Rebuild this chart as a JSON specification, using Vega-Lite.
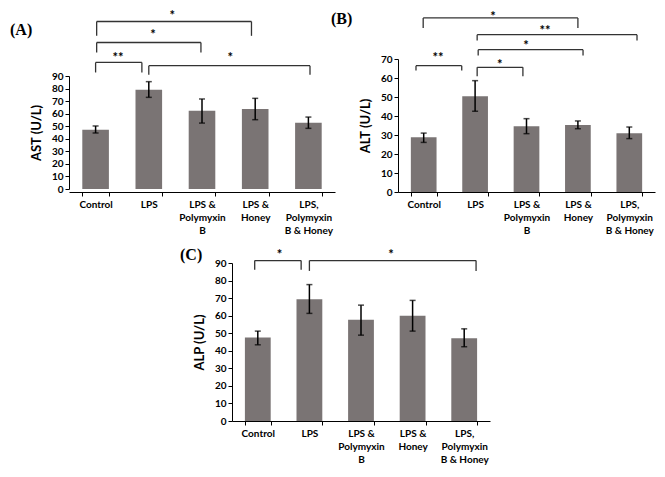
{
  "$schema": "https://vega.github.io/schema/vega-lite/v6.json",
  "padding": {"left": 10, "top": 10, "right": 5, "bottom": 5},
  "background": "white",
  "datasets": {
    "barsA": [
      {"group": "Control", "mean": 47.2, "lo": 44.6, "hi": 50.2},
      {"group": "LPS", "mean": 79.1, "lo": 73.0, "hi": 85.5},
      {"group": "LPS & Polymyxin B", "mean": 62.4, "lo": 52.5, "hi": 71.7},
      {"group": "LPS & Honey", "mean": 63.7, "lo": 55.2, "hi": 72.2},
      {"group": "LPS, Polymyxin B & Honey", "mean": 52.8, "lo": 48.3, "hi": 57.3}
    ],
    "barsB": [
      {"group": "Control", "mean": 28.8, "lo": 26.1, "hi": 31.0},
      {"group": "LPS", "mean": 50.4, "lo": 42.5, "hi": 58.6},
      {"group": "LPS & Polymyxin B", "mean": 34.6, "lo": 30.7, "hi": 38.6},
      {"group": "LPS & Honey", "mean": 35.3, "lo": 33.3, "hi": 37.4},
      {"group": "LPS, Polymyxin B & Honey", "mean": 30.9, "lo": 28.1, "hi": 34.2}
    ],
    "barsC": [
      {"group": "Control", "mean": 47.6, "lo": 43.4, "hi": 51.2},
      {"group": "LPS", "mean": 69.4, "lo": 61.3, "hi": 77.7},
      {"group": "LPS & Polymyxin B", "mean": 57.7, "lo": 48.9, "hi": 66.0},
      {"group": "LPS & Honey", "mean": 60.0, "lo": 51.2, "hi": 68.7},
      {"group": "LPS, Polymyxin B & Honey", "mean": 47.2, "lo": 42.3, "hi": 52.5}
    ],
    "brA": [
      {"x1": 0.52, "x2": 3.43, "h": 133.4, "low": 122, "xm": 1.94, "sy": 140.8, "star": "*"},
      {"x1": 0.52, "x2": 2.48, "h": 116.7, "low": 108.8, "xm": 1.58, "sy": 126, "star": "*"},
      {"x1": 0.5, "x2": 1.37, "h": 100.8, "low": 92.8, "xm": 0.92, "sy": 107.5, "star": "**"},
      {"x1": 1.5, "x2": 4.53, "h": 98.2, "low": 91, "xm": 3.03, "sy": 107.5, "star": "*"}
    ],
    "brB": [
      {"x1": 0.49, "x2": 3.5, "h": 91.6, "low": 86.3, "xm": 1.85, "sy": 94.2, "star": "*"},
      {"x1": 1.54, "x2": 4.65, "h": 82.8, "low": 79.8, "xm": 2.86, "sy": 86.8, "star": "**"},
      {"x1": 1.56, "x2": 3.6, "h": 74.9, "low": 71.8, "xm": 2.49, "sy": 79, "star": "*"},
      {"x1": 1.54, "x2": 2.43, "h": 65.6, "low": 60.9, "xm": 1.98, "sy": 69.2, "star": "*"},
      {"x1": 0.35, "x2": 1.24, "h": 66.5, "low": 63.9, "xm": 0.78, "sy": 72.6, "star": "**"}
    ],
    "brC": [
      {"x1": 0.44, "x2": 1.34, "h": 91.4, "low": 86.2, "xm": 0.92, "sy": 96.7, "star": "*"},
      {"x1": 1.5, "x2": 4.73, "h": 91.4, "low": 85.5, "xm": 3.08, "sy": 96.7, "star": "*"}
    ]
  },
  "vconcat": [
    {
      "hconcat": [
        {
          "width": 266, "height": 133,
          "title": {"text": "(A)", "dx": -59, "dy": 32},
          "resolve": {"scale": {"x": "independent"}},
          "layer": [
            {
              "data": {"name": "barsA"},
              "encoding": {
                "x": {"field": "group", "type": "nominal", "sort": null,
                  "scale": {"paddingInner": 0.5, "paddingOuter": 0.25},
                  "axis": {"title": null, "labelAngle": 0, "tickBand": "extent", "labelLineHeight": 13, "labelPadding": 3,
                    "labelExpr": "datum.label == 'LPS & Polymyxin B' ? ['LPS &','Polymyxin','B'] : datum.label == 'LPS & Honey' ? ['LPS &','Honey'] : datum.label == 'LPS, Polymyxin B & Honey' ? ['LPS,','Polymyxin','B & Honey'] : datum.label"}}
              },
              "layer": [
                {"mark": {"type": "bar", "color": "#7a7474"},
                 "encoding": {"y": {"field": "mean", "type": "quantitative",
                   "scale": {"domain": [0, 90], "range": [130, 17], "nice": false},
                   "axis": {"title": "AST (U/L)", "values": [0,10,20,30,40,50,60,70,80,90], "titlePadding": 8}}}},
                {"mark": {"type": "errorbar", "color": "#000", "thickness": 1.5, "ticks": {"size": 6, "thickness": 1.5}},
                 "encoding": {"y": {"field": "lo", "type": "quantitative", "scale": {"domain": [0, 90], "range": [130, 17], "nice": false},
                   "axis": {"title": "AST (U/L)", "values": [0,10,20,30,40,50,60,70,80,90], "titlePadding": 8}}, "y2": {"field": "hi"}}}
              ]
            },
            {
              "data": {"name": "brA"},
              "layer": [
                {"mark": {"type": "rule", "color": "#333", "strokeWidth": 1.3},
                 "encoding": {"x": {"field": "x1", "type": "quantitative", "scale": {"domain": [0, 5], "nice": false}, "axis": null}, "x2": {"field": "x2"},
                   "y": {"field": "h", "type": "quantitative", "scale": {"domain": [0, 90], "range": [130, 17], "nice": false},
                     "axis": {"title": "AST (U/L)", "values": [0,10,20,30,40,50,60,70,80,90], "titlePadding": 8}}}},
                {"transform": [{"fold": ["x1", "x2"], "as": ["end", "xv"]}],
                 "mark": {"type": "rule", "color": "#333", "strokeWidth": 1.3},
                 "encoding": {"x": {"field": "xv", "type": "quantitative", "scale": {"domain": [0, 5], "nice": false}, "axis": null},
                   "y": {"field": "h", "type": "quantitative", "scale": {"domain": [0, 90], "range": [130, 17], "nice": false},
                     "axis": {"title": "AST (U/L)", "values": [0,10,20,30,40,50,60,70,80,90], "titlePadding": 8}}, "y2": {"field": "low"}}},
                {"mark": {"type": "text", "font": "Lato", "fontWeight": "bold", "fontSize": 13, "baseline": "middle", "dy": 4},
                 "encoding": {"x": {"field": "xm", "type": "quantitative", "scale": {"domain": [0, 5], "nice": false}, "axis": null},
                   "y": {"field": "sy", "type": "quantitative", "scale": {"domain": [0, 90], "range": [130, 17], "nice": false},
                     "axis": {"title": "AST (U/L)", "values": [0,10,20,30,40,50,60,70,80,90], "titlePadding": 8}}, "text": {"field": "star"}}}
              ]
            }
          ]
        },
        {
          "width": 257, "height": 133,
          "title": {"text": "(B)", "dx": -67, "dy": 20},
          "resolve": {"scale": {"x": "independent"}},
          "layer": [
            {
              "data": {"name": "barsB"},
              "encoding": {
                "x": {"field": "group", "type": "nominal", "sort": null,
                  "scale": {"paddingInner": 0.5, "paddingOuter": 0.25},
                  "axis": {"title": null, "labelAngle": 0, "tickBand": "extent", "labelLineHeight": 13, "labelPadding": 3,
                    "labelExpr": "datum.label == 'LPS & Polymyxin B' ? ['LPS &','Polymyxin','B'] : datum.label == 'LPS & Honey' ? ['LPS &','Honey'] : datum.label == 'LPS, Polymyxin B & Honey' ? ['LPS,','Polymyxin','B & Honey'] : datum.label"}}
              },
              "layer": [
                {"mark": {"type": "bar", "color": "#7a7474"},
                 "encoding": {"y": {"field": "mean", "type": "quantitative", "scale": {"domain": [0, 70], "nice": false},
                   "axis": {"title": "ALT (U/L)", "values": [0,10,20,30,40,50,60,70], "titlePadding": 8}}}},
                {"mark": {"type": "errorbar", "color": "#000", "thickness": 1.5, "ticks": {"size": 6, "thickness": 1.5}},
                 "encoding": {"y": {"field": "lo", "type": "quantitative", "scale": {"domain": [0, 70], "nice": false},
                   "axis": {"title": "ALT (U/L)", "values": [0,10,20,30,40,50,60,70], "titlePadding": 8}}, "y2": {"field": "hi"}}}
              ]
            },
            {
              "data": {"name": "brB"},
              "layer": [
                {"mark": {"type": "rule", "color": "#333", "strokeWidth": 1.3},
                 "encoding": {"x": {"field": "x1", "type": "quantitative", "scale": {"domain": [0, 5], "nice": false}, "axis": null}, "x2": {"field": "x2"},
                   "y": {"field": "h", "type": "quantitative", "scale": {"domain": [0, 70], "nice": false},
                     "axis": {"title": "ALT (U/L)", "values": [0,10,20,30,40,50,60,70], "titlePadding": 8}}}},
                {"transform": [{"fold": ["x1", "x2"], "as": ["end", "xv"]}],
                 "mark": {"type": "rule", "color": "#333", "strokeWidth": 1.3},
                 "encoding": {"x": {"field": "xv", "type": "quantitative", "scale": {"domain": [0, 5], "nice": false}, "axis": null},
                   "y": {"field": "h", "type": "quantitative", "scale": {"domain": [0, 70], "nice": false},
                     "axis": {"title": "ALT (U/L)", "values": [0,10,20,30,40,50,60,70], "titlePadding": 8}}, "y2": {"field": "low"}}},
                {"mark": {"type": "text", "font": "Lato", "fontWeight": "bold", "fontSize": 13, "baseline": "middle", "dy": 4},
                 "encoding": {"x": {"field": "xm", "type": "quantitative", "scale": {"domain": [0, 5], "nice": false}, "axis": null},
                   "y": {"field": "sy", "type": "quantitative", "scale": {"domain": [0, 70], "nice": false},
                     "axis": {"title": "ALT (U/L)", "values": [0,10,20,30,40,50,60,70], "titlePadding": 8}}, "text": {"field": "star"}}}
              ]
            }
          ]
        }
      ],
      "spacing": 63,
      "bounds": "flush"
    },
    {
      "hconcat": [
        {"width": 163, "height": 10, "data": {"values": [{"a": 1}]}, "mark": {"type": "point", "opacity": 0}},
        {
          "width": 258, "height": 158,
          "title": {"text": "(C)", "dx": -52, "dy": 18},
          "resolve": {"scale": {"x": "independent"}},
          "layer": [
            {
              "data": {"name": "barsC"},
              "encoding": {
                "x": {"field": "group", "type": "nominal", "sort": null,
                  "scale": {"paddingInner": 0.5, "paddingOuter": 0.25},
                  "axis": {"title": null, "labelAngle": 0, "tickBand": "extent", "labelLineHeight": 13, "labelPadding": 3,
                    "labelExpr": "datum.label == 'LPS & Polymyxin B' ? ['LPS &','Polymyxin','B'] : datum.label == 'LPS & Honey' ? ['LPS &','Honey'] : datum.label == 'LPS, Polymyxin B & Honey' ? ['LPS,','Polymyxin','B & Honey'] : datum.label"}}
              },
              "layer": [
                {"mark": {"type": "bar", "color": "#7a7474"},
                 "encoding": {"y": {"field": "mean", "type": "quantitative", "scale": {"domain": [0, 90], "nice": false},
                   "axis": {"title": "ALP (U/L)", "values": [0,10,20,30,40,50,60,70,80,90], "titlePadding": 8}}}},
                {"mark": {"type": "errorbar", "color": "#000", "thickness": 1.5, "ticks": {"size": 6, "thickness": 1.5}},
                 "encoding": {"y": {"field": "lo", "type": "quantitative", "scale": {"domain": [0, 90], "nice": false},
                   "axis": {"title": "ALP (U/L)", "values": [0,10,20,30,40,50,60,70,80,90], "titlePadding": 8}}, "y2": {"field": "hi"}}}
              ]
            },
            {
              "data": {"name": "brC"},
              "layer": [
                {"mark": {"type": "rule", "color": "#333", "strokeWidth": 1.3},
                 "encoding": {"x": {"field": "x1", "type": "quantitative", "scale": {"domain": [0, 5], "nice": false}, "axis": null}, "x2": {"field": "x2"},
                   "y": {"field": "h", "type": "quantitative", "scale": {"domain": [0, 90], "nice": false},
                     "axis": {"title": "ALP (U/L)", "values": [0,10,20,30,40,50,60,70,80,90], "titlePadding": 8}}}},
                {"transform": [{"fold": ["x1", "x2"], "as": ["end", "xv"]}],
                 "mark": {"type": "rule", "color": "#333", "strokeWidth": 1.3},
                 "encoding": {"x": {"field": "xv", "type": "quantitative", "scale": {"domain": [0, 5], "nice": false}, "axis": null},
                   "y": {"field": "h", "type": "quantitative", "scale": {"domain": [0, 90], "nice": false},
                     "axis": {"title": "ALP (U/L)", "values": [0,10,20,30,40,50,60,70,80,90], "titlePadding": 8}}, "y2": {"field": "low"}}},
                {"mark": {"type": "text", "font": "Lato", "fontWeight": "bold", "fontSize": 13, "baseline": "middle", "dy": 4},
                 "encoding": {"x": {"field": "xm", "type": "quantitative", "scale": {"domain": [0, 5], "nice": false}, "axis": null},
                   "y": {"field": "sy", "type": "quantitative", "scale": {"domain": [0, 90], "nice": false},
                     "axis": {"title": "ALP (U/L)", "values": [0,10,20,30,40,50,60,70,80,90], "titlePadding": 8}}, "text": {"field": "star"}}}
              ]
            }
          ]
        }
      ],
      "spacing": 0,
      "bounds": "flush"
    }
  ],
  "spacing": 12,
  "config": {
    "view": {"stroke": null},
    "axis": {"labelFont": "Lato", "labelFontWeight": "bold", "labelFontSize": 10, "labelColor": "#000", "labelOverlap": false,
      "titleFont": "Lato", "titleFontWeight": "bold", "titleFontSize": 13, "titleColor": "#000",
      "domainColor": "#000", "tickColor": "#000", "grid": false, "tickSize": 4},
    "title": {"font": "Liberation Serif", "fontSize": 16, "fontWeight": "bold", "anchor": "start", "frame": "group", "color": "#000"}
  }
}
